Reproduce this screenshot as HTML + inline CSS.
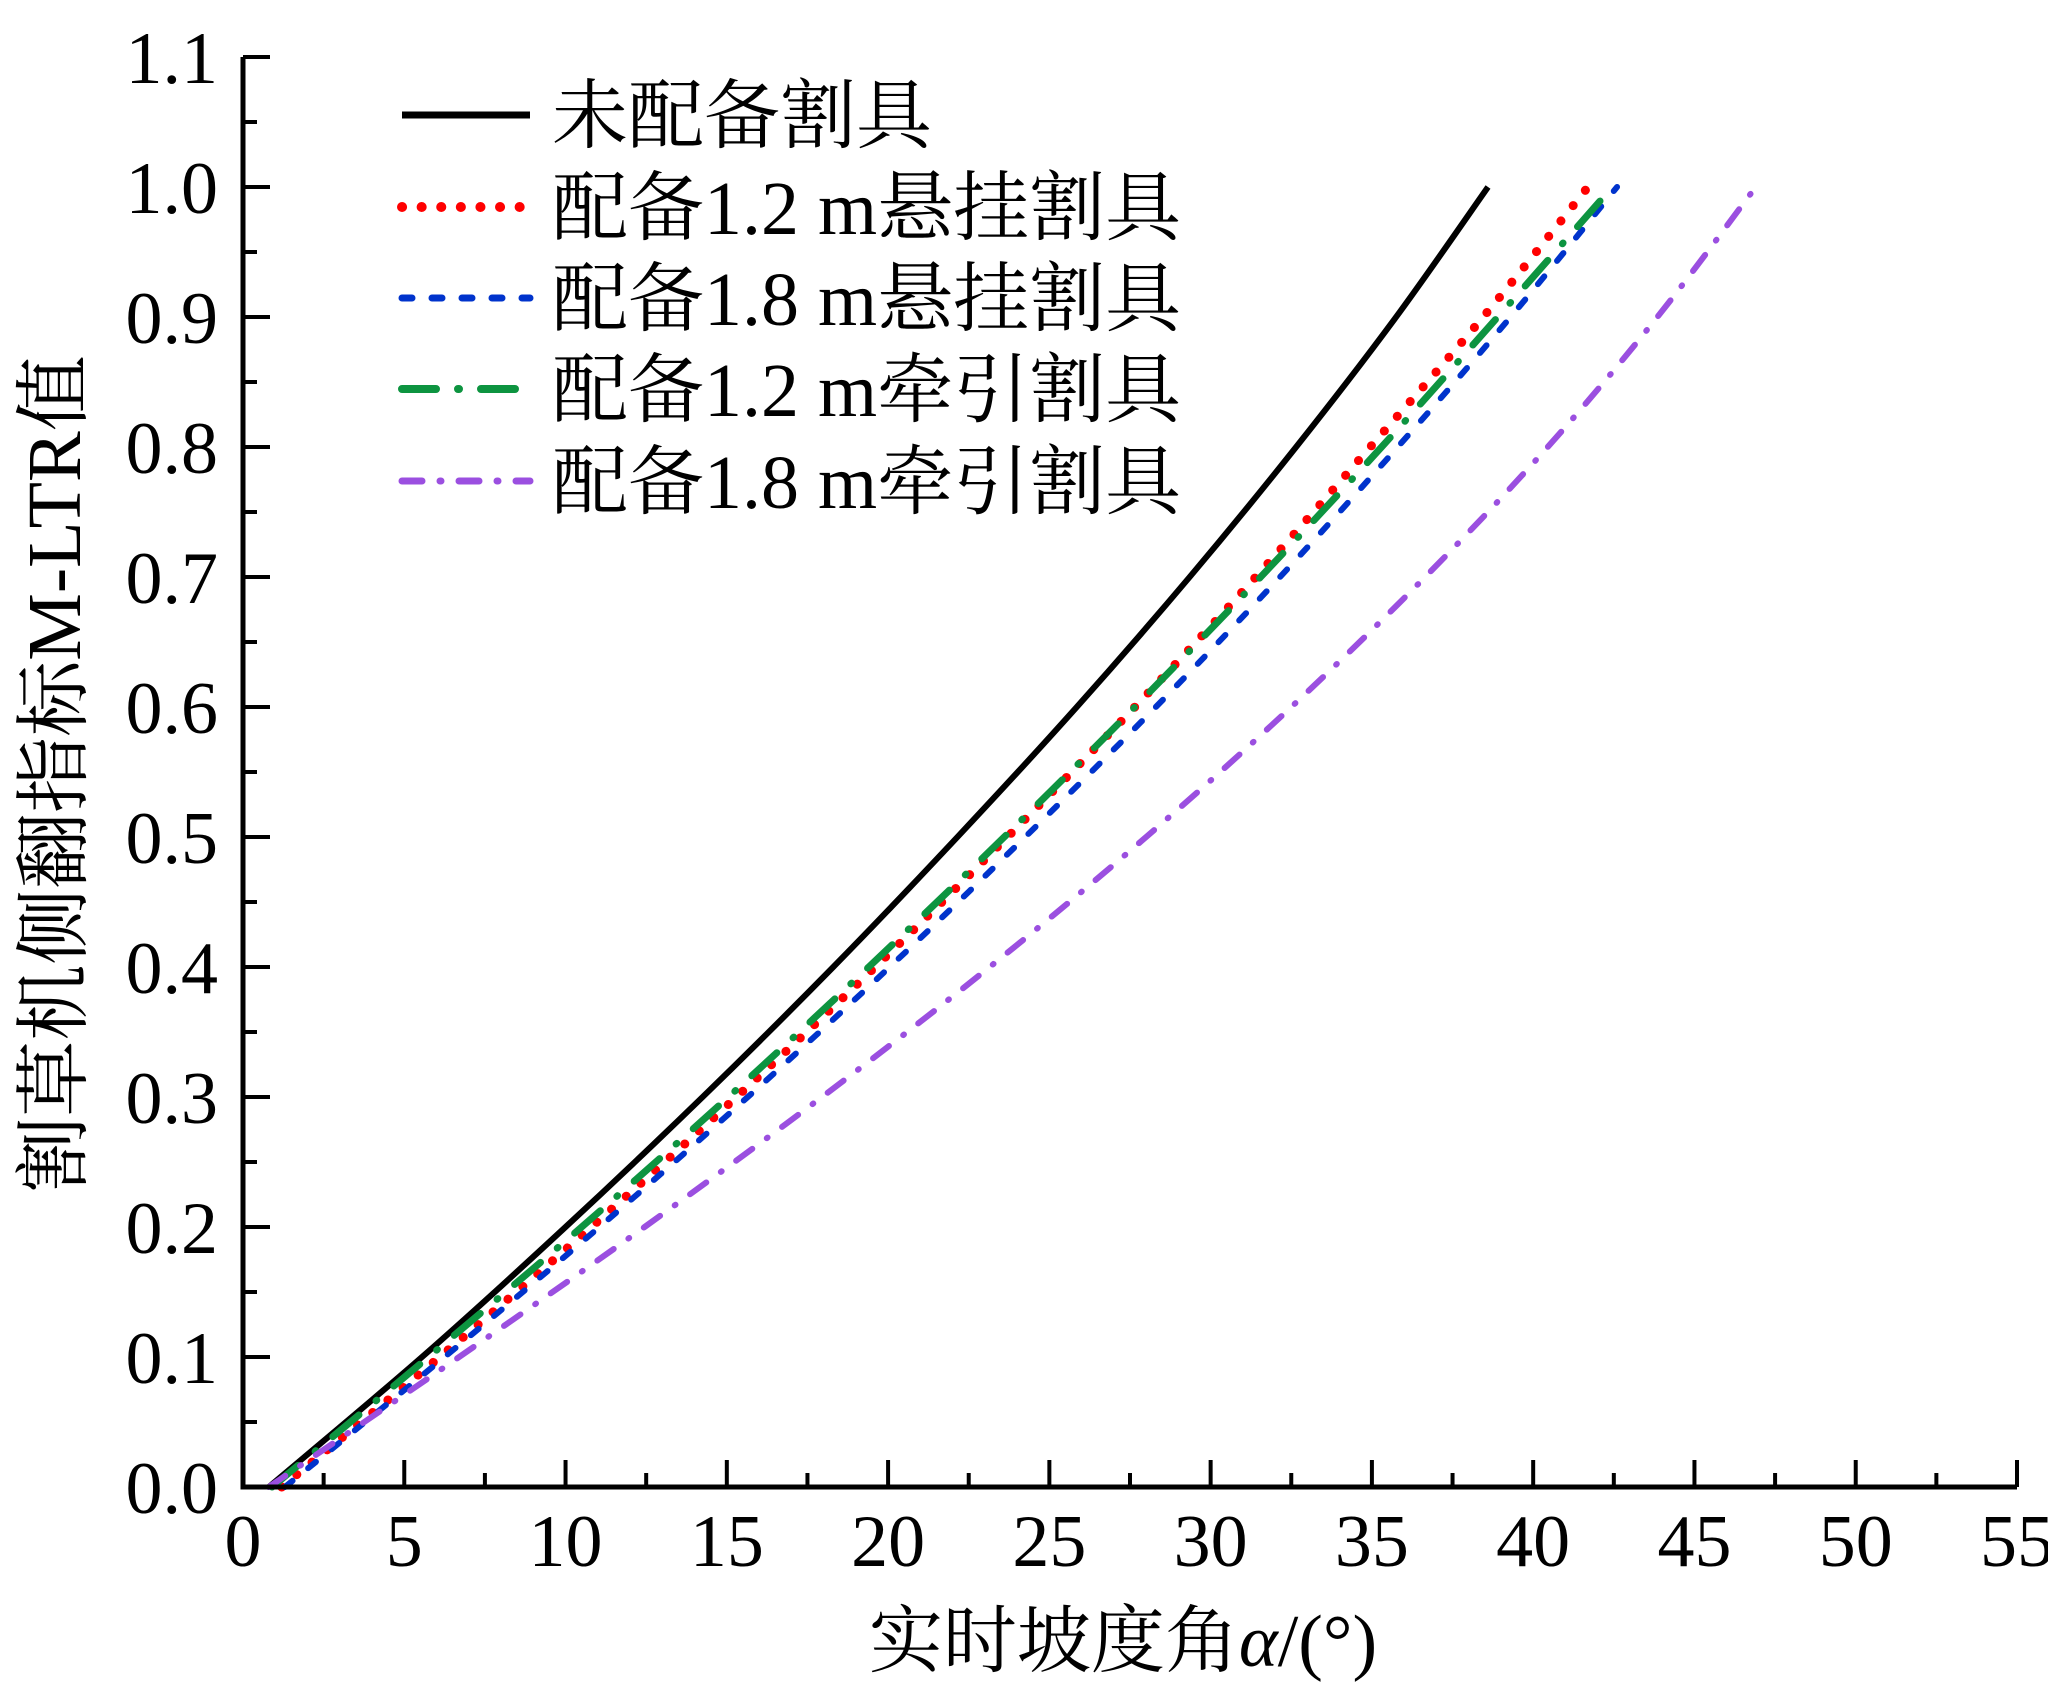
<!DOCTYPE html>
<html><head><meta charset="utf-8"><style>
html,body{margin:0;padding:0;background:#fff}
svg{display:block}
text{font-family:"Liberation Serif","Noto Serif CJK SC","Noto Sans CJK SC",serif;fill:#000}
</style></head><body>
<svg id="chart" width="2048" height="1685" viewBox="0 0 2048 1685"></svg>
<script>
const yLevels=[0,0.1,0.2,0.3,0.4,0.5,0.6,0.7,0.8,0.9,1.0];
const xNone=[0.8,5.55,10.0,14.25,18.3,22.15,25.85,29.35,32.65,35.75,38.6];
const xHang12=[1.2,6.1,10.8,15.3,19.6,23.7,27.65,31.4,34.95,38.45,41.7];
const xHang18=[1.3,6.25,11.05,15.65,20.05,24.25,28.3,32.15,35.8,39.3,42.6];
const xTow12=[0.9,5.75,10.5,15.05,19.4,23.6,27.65,31.55,35.3,38.9,42.1];
const xTow18=[0.8,6.7,12.45,17.95,23.15,28.0,32.5,36.65,40.45,43.85,46.9];
const yTow12=[0,0.1,0.2,0.3,0.4,0.5,0.6,0.7,0.8,0.9,0.99];
const xTicks=[0,5,10,15,20,25,30,35,40,45,50,55];
const yTicks=[0,0.1,0.2,0.3,0.4,0.5,0.6,0.7,0.8,0.9,1.0,1.1];
const names=["未配备割具","配备1.2 m悬挂割具","配备1.8 m悬挂割具","配备1.2 m牵引割具","配备1.8 m牵引割具"];

const NS="http://www.w3.org/2000/svg";
const svg=document.getElementById('chart');
const X0=243,X1=2017,Y0=1487,Y1=57;
const sx=v=>X0+(v/55)*(X1-X0);
const sy=v=>Y0-(v/1.1)*(Y0-Y1);
function mk(t,a){const e=document.createElementNS(NS,t);for(const k in a)e.setAttribute(k,a[k]);svg.appendChild(e);return e;}

const styles=[
 {c:"#000000",w:6,d:"",cap:"butt"},
 {c:"#ff0000",w:9,d:"0.1 19.5",cap:"round"},
 {c:"#0033cc",w:6,d:"10 20",cap:"round"},
 {c:"#0d9440",w:7,d:"34 22 1 22",cap:"round"},
 {c:"#9b4fe0",w:6,d:"20 18 1 18",cap:"round"}
];
const series=[[xNone,yLevels],[xHang12,yLevels],[xHang18,yLevels],[xTow12,yTow12],[xTow18,yLevels]];
const snames=['series-no-cutter','series-hang-1-2m','series-hang-1-8m','series-tow-1-2m','series-tow-1-8m'];
series.forEach((s,i)=>{
  const [xs,ys]=s;
  let pts=xs.map((x,j)=>[sx(x),sy(ys[j])]);
  let d="M"+pts[0][0]+","+pts[0][1];
  for(let j=0;j<pts.length-1;j++){
    const p0=pts[Math.max(0,j-1)],p1=pts[j],p2=pts[j+1],p3=pts[Math.min(pts.length-1,j+2)];
    const c1=[p1[0]+(p2[0]-p0[0])/6,p1[1]+(p2[1]-p0[1])/6];
    const c2=[p2[0]-(p3[0]-p1[0])/6,p2[1]-(p3[1]-p1[1])/6];
    d+=` C${c1[0]},${c1[1]} ${c2[0]},${c2[1]} ${p2[0]},${p2[1]}`;
  }
  const st=styles[i];
  const p=mk('path',{d:d,fill:'none',stroke:st.c,'stroke-width':st.w,'stroke-dasharray':st.d,'stroke-linecap':st.cap});
  
  
});

const ax=mk('path',{d:`M${X0},${Y1} V${Y0} H${X1}`,fill:'none',stroke:'#000','stroke-width':5});


xTicks.forEach((v,i)=>{
  const x=sx(v);
  const t=mk('line',{x1:x,y1:Y0,x2:x,y2:Y0-27,stroke:'#000','stroke-width':4});
  
  
  if(i<xTicks.length-1){const xm=sx(v+2.5);const m=mk('line',{x1:xm,y1:Y0,x2:xm,y2:Y0-14,stroke:'#000','stroke-width':4});
    
    }
  const l=mk('text',{x:x,y:1566,'font-size':74,'text-anchor':'middle'});l.textContent=String(v);
  
  
});
yTicks.forEach((v,i)=>{
  const y=sy(v);
  const t=mk('line',{x1:X0,y1:y,x2:X0+27,y2:y,stroke:'#000','stroke-width':4});
  
  
  if(i<yTicks.length-1){const ym=sy(v+0.05);const m=mk('line',{x1:X0,y1:ym,x2:X0+14,y2:ym,stroke:'#000','stroke-width':4});
    
    }
  const l=mk('text',{x:218,y:y+26,'font-size':74,'text-anchor':'end'});l.textContent=v.toFixed(1);
  
  
});
const xt=mk('text',{x:1123,y:1666,'font-size':74,'text-anchor':'middle'});
xt.innerHTML='实时坡度角<tspan font-style="italic">α</tspan>/(°)';


const yt=mk('text',{x:0,y:0,'font-size':76,'text-anchor':'middle',transform:'translate(80,774) rotate(-90)'});
yt.textContent='割草机侧翻指标M-LTR值';



const ly=[115,207,298,389,481];
names.forEach((n,i)=>{
  const st=styles[i];
  const ln=mk('line',{x1:402,y1:ly[i],x2:530,y2:ly[i],stroke:st.c,'stroke-width':st.w+1,'stroke-dasharray':st.d,'stroke-linecap':st.cap});
  
  
  const t=mk('text',{x:552,y:ly[i]+27,'font-size':76});t.textContent=n;
  
  
});
</script>
</body></html>
